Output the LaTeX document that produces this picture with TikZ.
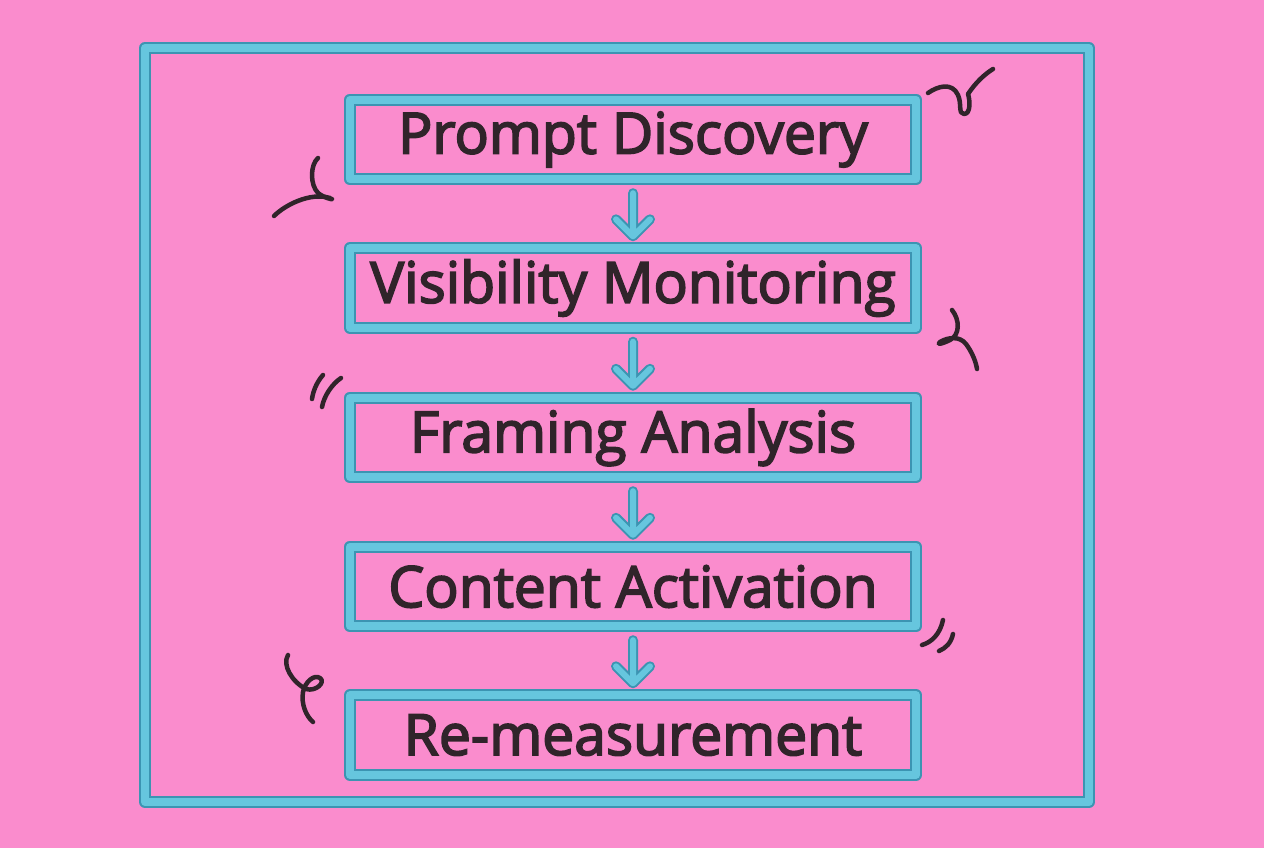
\documentclass[tikz,border=0pt]{standalone}
\usepackage{fontspec}
\setmainfont{Open Sans}
\newfontfamily\stepfont{Open Sans}[FakeBold=3]
\usetikzlibrary{arrows.meta}
\definecolor{bgpink}{RGB}{250,140,205}
\definecolor{bluedark}{RGB}{60,148,178}
\definecolor{bluelight}{RGB}{102,198,222}
\definecolor{inkdark}{RGB}{48,36,42}
\tikzset{
  stepbox/.style={draw=none, minimum width=566pt, minimum height=79pt, inner sep=0pt,
    font=\stepfont\fontsize{57}{62}\selectfont, text=inkdark},
  blueout/.style={draw=bluedark, line width=12pt, line join=round, line cap=round},
  bluein/.style={draw=bluelight, line width=8pt, line join=round, line cap=round},
  squig/.style={draw=inkdark, line width=4.5pt, line cap=round, line join=round},
}
\begin{document}
\begin{tikzpicture}[x=1pt,y=-1pt]
\fill[bgpink] (0,0) rectangle (1264,848);
\useasboundingbox (0,0) rectangle (1264,848);
% outer frame
\draw[blueout] (145,48) rectangle (1089,802);
\draw[bluein] (145,48) rectangle (1089,802);
% step nodes
\node[stepbox] (s1) at (633,139.5) {\raisebox{-3pt}{Prompt Discovery}};
\node[stepbox] (s2) at (633,288) {\raisebox{-3pt}{Visibility Monitoring}};
\node[stepbox] (s3) at (633,437.5) {\raisebox{-3pt}{Framing Analysis}};
\node[stepbox] (s4) at (633,586.5) {\raisebox{-3pt}{Content Activation}};
\node[stepbox] (s5) at (633,735) {\raisebox{-3pt}{Re-measurement}};
\foreach \n in {s1,s2,s3,s4,s5}{
  \draw[blueout] (\n.north west) rectangle (\n.south east);
  \draw[bluein] (\n.north west) rectangle (\n.south east);
}
% arrows
\foreach \a/\b in {s1/s2,s2/s3,s3/s4,s4/s5}{
  \coordinate (t\a) at ([yshift=12pt]\b.north);
  \coordinate (f\a) at ([yshift=-14pt]\a.south);
  \draw[draw=bluedark, line width=10pt, line cap=round, line join=round]
    (f\a) -- (t\a) ([shift={(-17pt,17pt)}]t\a) -- (t\a) -- ([shift={(17pt,17pt)}]t\a);
  \draw[draw=bluelight, line width=6pt, line cap=round, line join=round]
    (f\a) -- (t\a) ([shift={(-17pt,17pt)}]t\a) -- (t\a) -- ([shift={(17pt,17pt)}]t\a);
}
% decorative squiggles
\draw[squig] (928,93) .. controls (938,86) and (952,82) .. (958,95)
  .. controls (962,104) and (958,114) .. (964,114)
  .. controls (971,114) and (970,100) .. (968,94)
  .. controls (976,82) and (985,74) .. (993,69);
\draw[squig] (318,158) .. controls (310,165) and (310,185) .. (318,193)
  .. controls (324,198) and (334,200) .. (332,199);
\draw[squig] (330,198) .. controls (310,192) and (285,205) .. (274,216);
\draw[squig] (952,310) .. controls (960,320) and (960,335) .. (950,340)
  .. controls (942,344) and (936,345) .. (940,342)
  .. controls (948,337) and (960,336) .. (966,344)
  .. controls (972,352) and (976,362) .. (977,369);
\draw[squig] (323,375) .. controls (316,383) and (313,392) .. (312,399);
\draw[squig] (341,378) .. controls (332,384) and (324,396) .. (322,407);
\draw[squig] (943,620) .. controls (940,634) and (932,642) .. (922,645);
\draw[squig] (953,634) .. controls (951,643) and (946,648) .. (939,651);
\draw[squig] (288,655) .. controls (282,665) and (292,682) .. (306,689)
  .. controls (316,692) and (326,682) .. (320,678)
  .. controls (314,674) and (305,682) .. (303,692)
  .. controls (301,704) and (306,716) .. (313,722);
\end{tikzpicture}
\end{document}
